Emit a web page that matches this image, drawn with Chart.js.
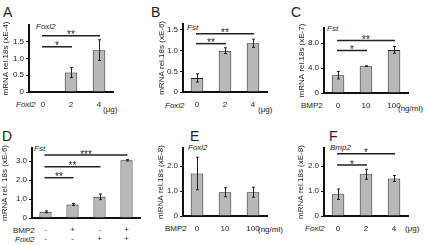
<!DOCTYPE html>
<html lang="en">
<head>
<meta charset="UTF-8">
<title>Foxl2 / BMP2 expression panels</title>
<script src="https://cdn.jsdelivr.net/npm/chart.js"></script>
<style>
  body { margin: 0; width: 425px; height: 245px; background: #fff; position: relative; overflow: hidden;
         font-family: 'Liberation Sans', Arial, sans-serif; color: #222; }
  canvas { position: absolute; }
  .lbl { position: absolute; font-size: 8px; line-height: 9px; white-space: nowrap; }
  .it { font-style: italic; }
  .letter { position: absolute; font-size: 14px; line-height: 14px; }
</style>
</head>
<body>
<!-- panel letters -->
<div class="letter" style="left:3px;top:5px">A</div>
<div class="letter" style="left:151px;top:5px">B</div>
<div class="letter" style="left:291px;top:5px">C</div>
<div class="letter" style="left:2px;top:129px">D</div>
<div class="letter" style="left:190px;top:129px">E</div>
<div class="letter" style="left:329px;top:129px">F</div>

<!-- gene names inside the plots -->
<div class="lbl it" style="left:36px;top:22px">Foxl2</div>
<div class="lbl it" style="left:187px;top:23px">Fst</div>
<div class="lbl it" style="left:327px;top:24px">Fst</div>
<div class="lbl it" style="left:34px;top:144px">Fst</div>
<div class="lbl it" style="left:188px;top:143px">Foxl2</div>
<div class="lbl it" style="left:330px;top:143px">Bmp2</div>

<!-- x row labels and units -->
<div class="lbl it" style="left:16px;top:100px">Foxl2</div>
<div class="lbl" style="left:103px;top:105px">(μg)</div>
<div class="lbl it" style="left:165px;top:101px">Foxl2</div>
<div class="lbl" style="left:258px;top:105px">(μg)</div>
<div class="lbl" style="left:301px;top:101px">BMP2</div>
<div class="lbl" style="left:398px;top:104px">(ng/ml)</div>
<div class="lbl" style="left:13px;top:226px">BMP2</div>
<div class="lbl it" style="left:15px;top:235px">Foxl2</div>
<div class="lbl" style="left:165px;top:224px">BMP2</div>
<div class="lbl" style="left:258px;top:225px">(ng/ml)</div>
<div class="lbl it" style="left:305px;top:224px">Foxl2</div>
<div class="lbl" style="left:405px;top:224px">(μg)</div>

<canvas id="chartA"></canvas>
<canvas id="chartB"></canvas>
<canvas id="chartC"></canvas>
<canvas id="chartD"></canvas>
<canvas id="chartE"></canvas>
<canvas id="chartF"></canvas>

<script>
// ---- data ----
// A: Foxl2 mRNA after Foxl2 transfection
const catsA = ['0', '2', '4'];
const valsA = [0, 0.58, 1.25];
const errsA = [0, 0.15, 0.31];
const ticksA = [0, 0.5, 1.0, 1.5];
const sigA = [[0, 1, 1.35, '*'], [0, 2, 1.68, '**']];

// B: Fst mRNA after Foxl2 transfection
const catsB = ['0', '2', '4'];
const valsB = [0.34, 1.0, 1.18];
const errsB = [0.1, 0.07, 0.1];
const ticksB = [0, 0.5, 1.0, 1.5];
const sigB = [[0, 1, 1.17, '**'], [0, 2, 1.41, '**']];

// C: Fst mRNA with BMP2
const catsC = ['0', '10', '100'];
const valsC = [2.85, 4.3, 6.9];
const errsC = [0.6, 0.05, 0.55];
const ticksC = [0, 4, 8];
const sigC = [[0, 1, 6.8, '*'], [0, 2, 8.4, '**']];

// D: Fst mRNA, BMP2 x Foxl2
const bmpD = ['-', '+', '-', '+'];
const foxD = ['-', '-', '+', '+'];
const valsD = [0.33, 0.71, 1.12, 3.05];
const errsD = [0.05, 0.05, 0.15, 0.04];
const ticksD = [0, 1, 2, 3];
const sigD = [[0, 1, 2.13, '**'], [0, 2, 2.71, '**'], [0, 3, 3.33, '***']];

// E: Foxl2 mRNA with BMP2
const catsE = ['0', '10', '100'];
const valsE = [1.7, 0.95, 0.95];
const errsE = [0.65, 0.18, 0.2];
const ticksE = [0, 1, 2];
const sigE = [];

// F: Bmp2 mRNA after Foxl2 transfection
const catsF = ['0', '2', '4'];
const valsF = [0.87, 1.67, 1.5];
const errsF = [0.21, 0.2, 0.12];
const ticksF = [0, 1, 2];
const sigF = [[0, 1, 2.04, '*'], [0, 2, 2.49, '*']];

const FONT = "'Liberation Sans', Arial, sans-serif";
const INK = '#222';

function makePanel(id, box, labels, vals, errs, ticks, yMax, sig, yTitle, tickPad) {
    const canvas = document.getElementById(id);
    canvas.width = box.width;
    canvas.height = box.height;
    canvas.style.left = box.left + 'px';
    canvas.style.top = box.top + 'px';

    const yw = box.x0 - box.left;
    const xh = box.top + box.height - box.y1;

    // error bars with small caps
    const errorBars = {
        id: 'errorBars',
        afterDatasetsDraw(chart) {
            const ctx = chart.ctx, y = chart.scales.y;
            const meta = chart.getDatasetMeta(0);
            ctx.save();
            ctx.strokeStyle = INK;
            ctx.lineWidth = 1;
            meta.data.forEach((bar, i) => {
                const e = errs[i];
                if (!e) return;
                const x = Math.round(bar.x) + 0.5;
                const top = y.getPixelForValue(vals[i] + e);
                const bot = y.getPixelForValue(vals[i] - e);
                ctx.beginPath();
                ctx.moveTo(x, top); ctx.lineTo(x, bot);
                ctx.moveTo(x - 1.5, top); ctx.lineTo(x + 1.5, top);
                ctx.moveTo(x - 1.5, bot); ctx.lineTo(x + 1.5, bot);
                ctx.stroke();
            });
            ctx.restore();
        }
    };

    // significance lines with stars
    const sigLines = {
        id: 'sigLines',
        afterDraw(chart) {
            const ctx = chart.ctx, x = chart.scales.x, y = chart.scales.y;
            ctx.save();
            ctx.strokeStyle = INK;
            ctx.fillStyle = INK;
            ctx.lineWidth = 1.5;
            ctx.font = '10px ' + FONT;
            ctx.textAlign = 'center';
            ctx.textBaseline = 'alphabetic';
            sig.forEach(([a, b, level, stars]) => {
                const x1 = x.getPixelForValue(a) - 1;
                const x2 = x.getPixelForValue(b) + 1;
                const py = y.getPixelForValue(level);
                ctx.beginPath();
                ctx.moveTo(x1, py); ctx.lineTo(x2, py);
                ctx.stroke();
                ctx.fillText(stars, (x1 + x2) / 2, py + 2.5);
            });
            ctx.restore();
        }
    };

    new Chart(canvas, {
        type: 'bar',
        data: {
            labels: labels,
            datasets: [{
                data: vals,
                backgroundColor: '#b8b8b8',
                borderColor: INK,
                borderWidth: 1,
                borderSkipped: 'bottom',
                barPercentage: 0.45,
                categoryPercentage: 1
            }]
        },
        options: {
            responsive: false,
            animation: false,
            events: [],
            layout: { padding: { top: box.y0 - box.top, right: box.left + box.width - box.x1, left: 0, bottom: 0 } },
            plugins: { legend: { display: false }, tooltip: { enabled: false } },
            scales: {
                x: {
                    offset: true,
                    grid: { display: true, drawOnChartArea: false, drawTicks: false },
                    border: { color: '#111', width: 2 },
                    ticks: { color: INK, font: { family: FONT, size: 8, lineHeight: 1.12 }, padding: tickPad,
                             maxRotation: 0, autoSkip: false },
                    afterFit: s => { s.height = xh; }
                },
                y: {
                    min: 0,
                    max: yMax,
                    grid: { drawOnChartArea: false, drawTicks: true, tickLength: 3, color: '#111' },
                    border: { color: '#111', width: 2 },
                    afterBuildTicks: s => { s.ticks = ticks.map(v => ({ value: v })); },
                    ticks: { color: INK, font: { family: FONT, size: 8 }, padding: 2,
                             callback: v => v === 0 ? '0' : v.toFixed(1) },
                    title: { display: true, text: yTitle, color: INK, padding: 0,
                             font: { family: FONT, size: 8 } },
                    afterFit: s => { s.width = yw; }
                }
            }
        },
        plugins: [errorBars, sigLines]
    });
}

const labelsD = bmpD.map((b, i) => [b, foxD[i]]);

makePanel('chartA', { left: 1, top: 18, width: 116, height: 100, x0: 29, x1: 113, y0: 25, y1: 92 },
    catsA, valsA, errsA, ticksA, 2.0, sigA, 'mRNA rel.18s (xE-4)', 8);
makePanel('chartB', { left: 157, top: 17, width: 116, height: 101, x0: 183, x1: 267, y0: 23, y1: 92 },
    catsB, valsB, errsB, ticksB, 1.65, sigB, 'mRNA rel.18s (xE-6)', 8);
makePanel('chartC', { left: 297, top: 18, width: 128, height: 100, x0: 324, x1: 408, y0: 28, y1: 93 },
    catsC, valsC, errsC, ticksC, 10.4, sigC, 'mRNA rel.18s (xE-7)', 8);
makePanel('chartD', { left: 0, top: 140, width: 145, height: 105, x0: 32, x1: 140, y0: 148, y1: 218 },
    labelsD, valsD, errsD, ticksD, 3.7, sigD, 'mRNA rel. 18s (xE-6)', 7);
makePanel('chartE', { left: 156, top: 140, width: 120, height: 105, x0: 183, x1: 267, y0: 148, y1: 216 },
    catsE, valsE, errsE, ticksE, 2.72, sigE, 'mRNA rel.18s (xE-8)', 8);
makePanel('chartF', { left: 296, top: 140, width: 129, height: 105, x0: 324, x1: 408, y0: 148, y1: 216 },
    catsF, valsF, errsF, ticksF, 2.72, sigF, 'mRNA rel.18s (xE-8)', 8);
</script>
</body>
</html>
